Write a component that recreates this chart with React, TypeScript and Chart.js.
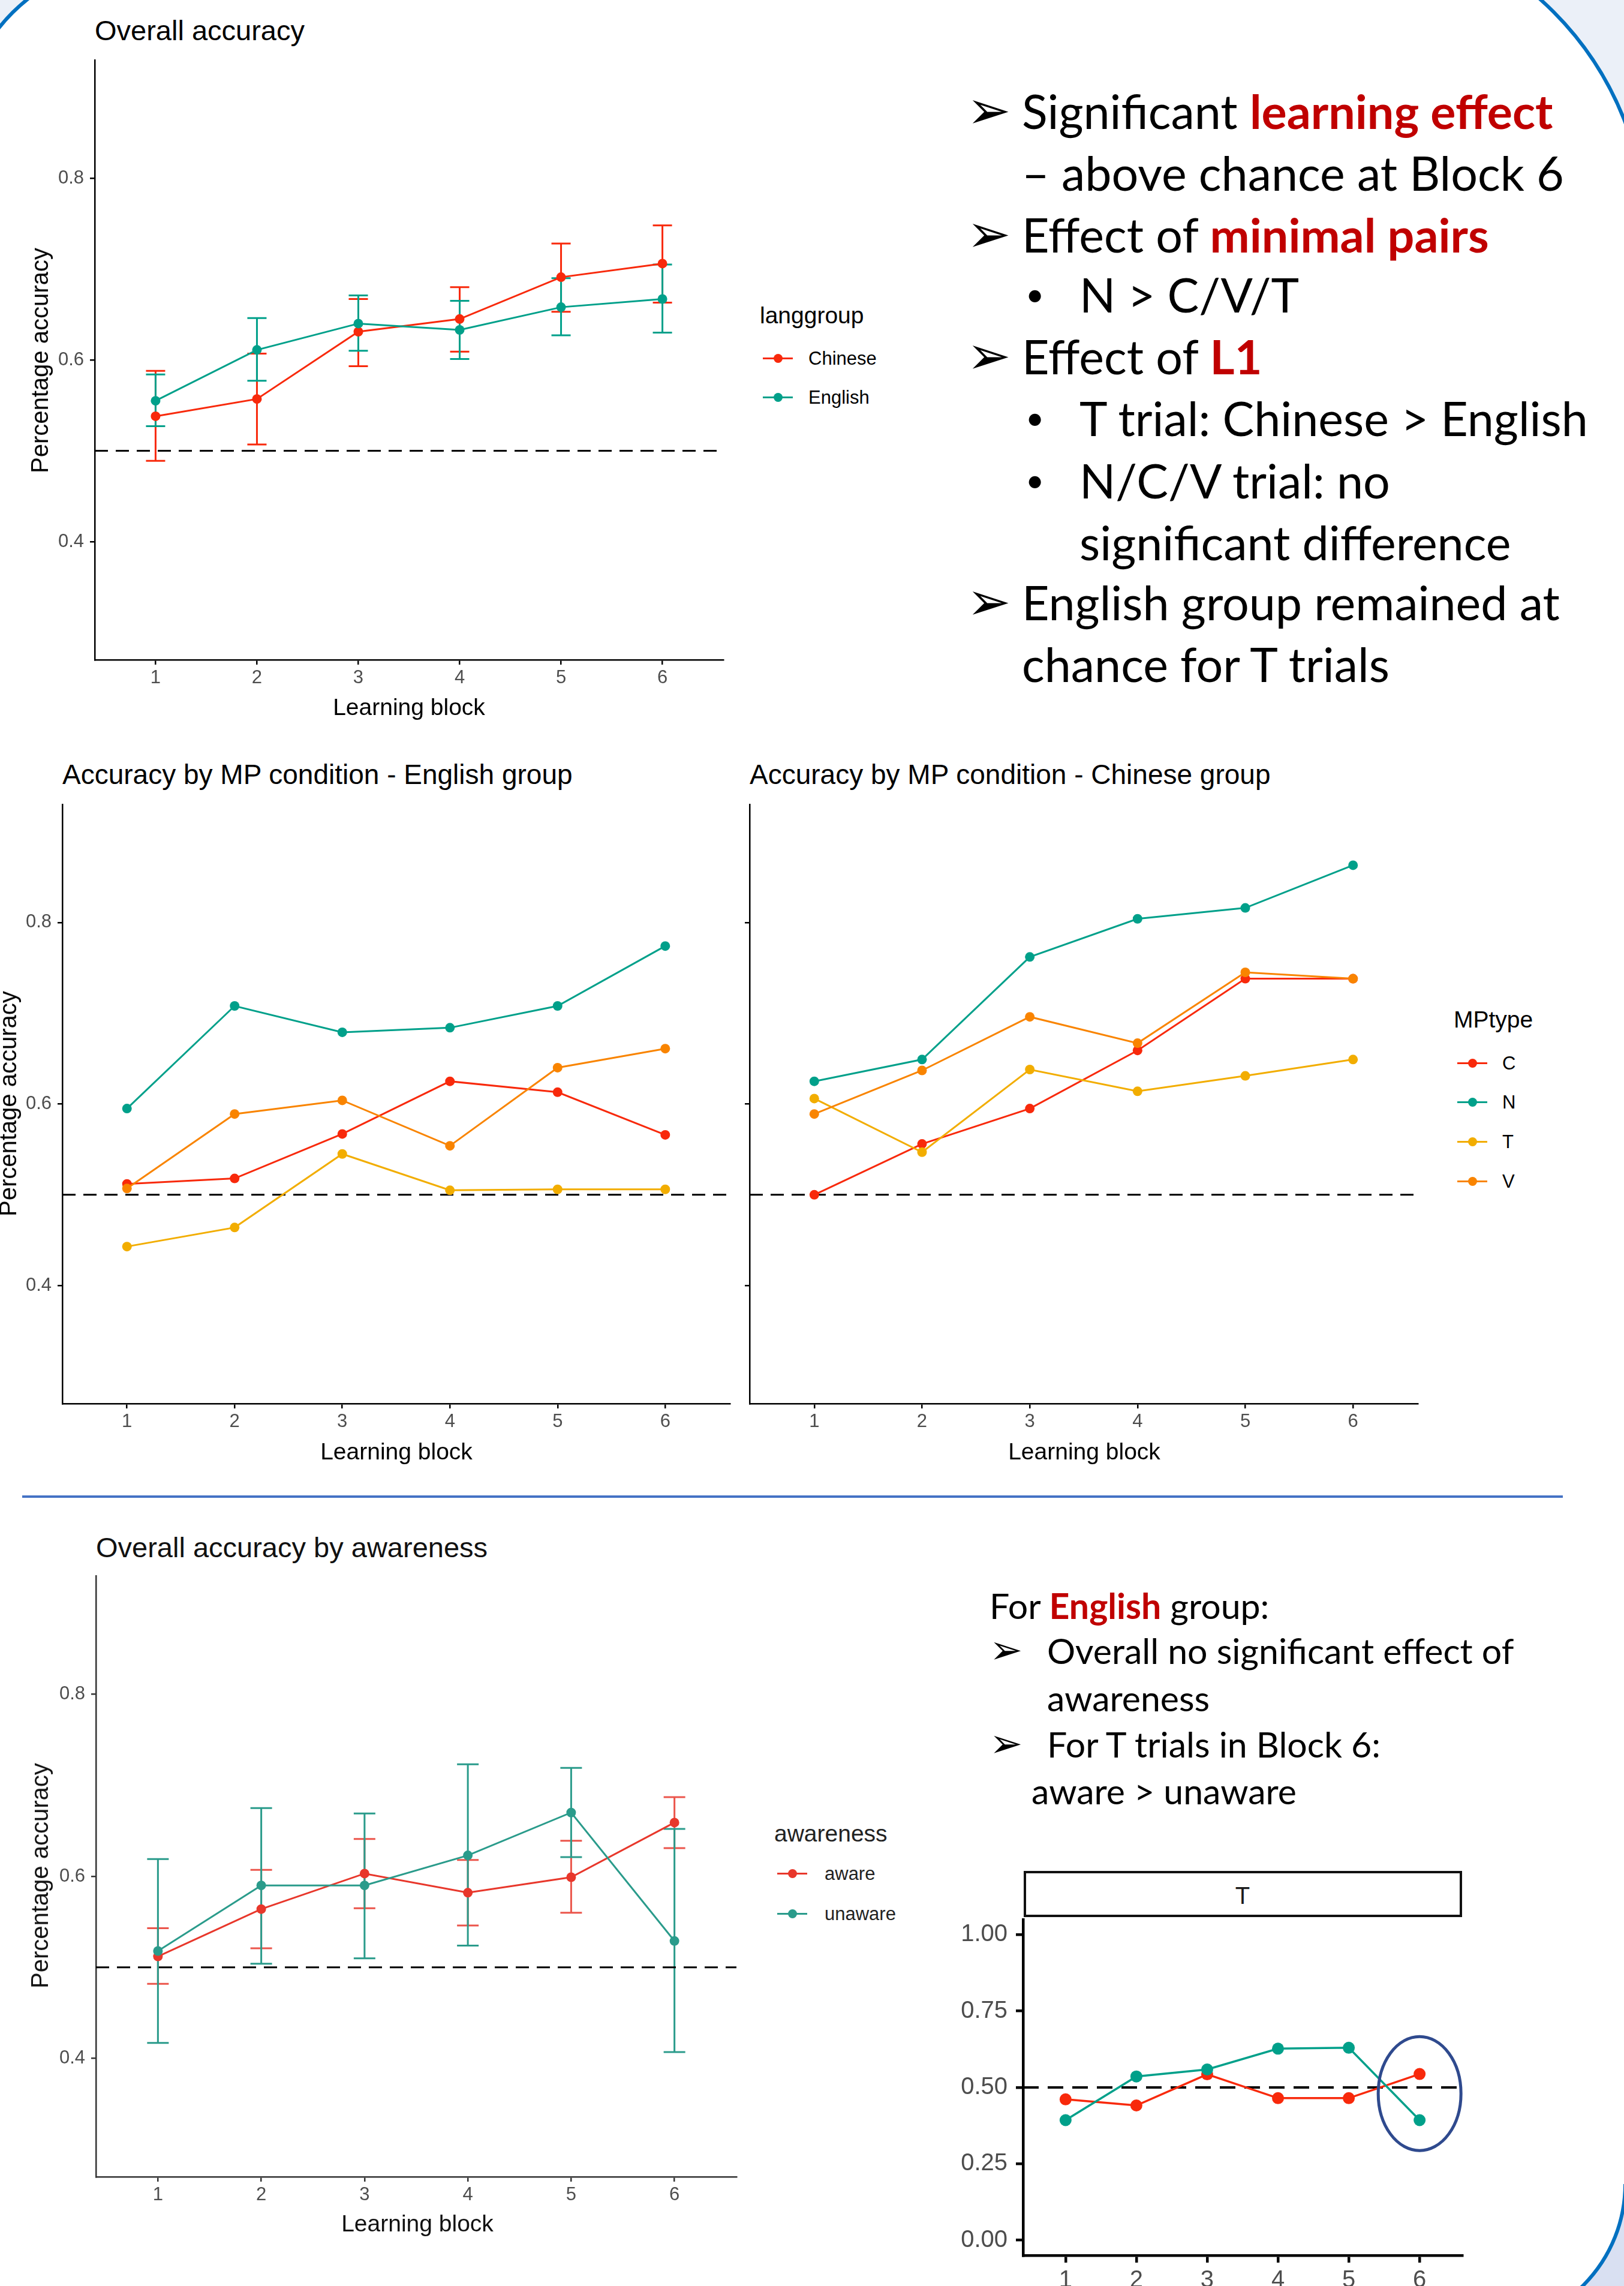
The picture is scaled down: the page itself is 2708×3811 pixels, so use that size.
import React, { useEffect, useRef } from 'react';
import { Chart, registerables } from 'chart.js';

Chart.register(...registerables);

// ---------------- DATA ----------------
const BLOCKS = [1, 2, 3, 4, 5, 6];
const X_MIN = 0.4;
const X_MAX = 6.6;
const ACC_MIN = 0.27;
const ACC_MAX = 0.93;
const ACC_TICKS = [0.4, 0.6, 0.8];
const T_MIN = -0.05;
const T_MAX = 1.05;
const T_TICKS = [0, 0.25, 0.5, 0.75, 1];
const CHANCE = 0.5;

// Overall accuracy (langgroup)
const LANG_LABELS = ['Chinese', 'English'];
const overallChinese = [0.538, 0.557, 0.631, 0.645, 0.691, 0.706];
const overallChineseLow = [0.489, 0.507, 0.593, 0.609, 0.653, 0.663];
const overallChineseHigh = [0.588, 0.607, 0.667, 0.680, 0.728, 0.748];
const overallEnglish = [0.555, 0.611, 0.640, 0.633, 0.658, 0.667];
const overallEnglishLow = [0.527, 0.577, 0.610, 0.601, 0.627, 0.630];
const overallEnglishHigh = [0.584, 0.646, 0.671, 0.665, 0.690, 0.705];

// Accuracy by MP condition
const MP_LABELS = ['C', 'N', 'T', 'V'];
const engC = [0.512, 0.518, 0.567, 0.625, 0.613, 0.566];
const engN = [0.595, 0.708, 0.679, 0.684, 0.708, 0.774];
const engT = [0.443, 0.464, 0.545, 0.505, 0.506, 0.506];
const engV = [0.507, 0.589, 0.604, 0.554, 0.640, 0.661];
const chiC = [0.500, 0.556, 0.595, 0.659, 0.738, 0.738];
const chiN = [0.625, 0.649, 0.762, 0.804, 0.816, 0.863];
const chiT = [0.606, 0.547, 0.638, 0.614, 0.631, 0.649];
const chiV = [0.589, 0.637, 0.696, 0.667, 0.745, 0.738];

// Overall accuracy by awareness
const AW_LABELS = ['aware', 'unaware'];
const aware = [0.512, 0.564, 0.603, 0.582, 0.599, 0.659];
const awareLow = [0.482, 0.521, 0.565, 0.546, 0.560, 0.631];
const awareHigh = [0.543, 0.607, 0.641, 0.618, 0.639, 0.687];
const unaware = [0.518, 0.590, 0.590, 0.623, 0.670, 0.529];
const unawareLow = [0.417, 0.504, 0.510, 0.524, 0.621, 0.407];
const unawareHigh = [0.619, 0.675, 0.669, 0.723, 0.719, 0.652];

// T trials, English group
const tAware = [0.461, 0.441, 0.543, 0.465, 0.465, 0.544];
const tUnaware = [0.393, 0.536, 0.559, 0.627, 0.630, 0.393];
const HIGHLIGHT_BLOCK = 6;
const HIGHLIGHT_Y = 0.48;

// ---------------- STYLE ----------------
const RED = '#F8290B';
const TEAL = '#00A08A';
const YELLOW = '#F2AD00';
const ORANGE = '#F98400';
const AW_RED = '#E8372B';
const AW_TEAL = '#2A9B8B';
const TICK_GRAY = '#4D4D4D';
const PLOT_FONT = '"Liberation Sans", Arial, sans-serif';
const TEXT_FONT = 'Lato, "Noto Sans", sans-serif';
const ARROW_FONT = '"DejaVu Sans", sans-serif';
const DARK_RED = '#C00000';

const PT = 40;
const PR = 12;

type Series = { label: string; color: string; values: number[]; low?: number[]; high?: number[]; errColor?: string };
type PlotStyle = {
  pointR: number; lineW: number; axisW: number; axisColor: string; tickLen: number; tickFont: number;
  yPad: number; xPad: number; dash: number[]; dashW: number; cap: number; errW: number;
};
type PlotProps = {
  box: [number, number, number, number];
  yAxisW: number; xAxisH: number;
  yMin: number; yMax: number; yTicks: number[]; yDigits: number; yLabels: boolean;
  series: Series[];
  st: PlotStyle;
  ellipse?: { x: number; y: number; rx: number; ry: number; color: string; width: number };
};

function Plot(p: PlotProps) {
  const ref = useRef<HTMLCanvasElement | null>(null);
  const [l, t, r, b] = p.box;
  const cw = r - l + p.yAxisW + PR;
  const ch = b - t + p.xAxisH + PT;
  useEffect(() => {
    if (!ref.current) return;
    const st = p.st;
    const datasets: any[] = p.series.map((s, i) => ({
      label: s.label,
      data: BLOCKS.map((bk, j) => ({ x: bk, y: s.values[j] })),
      borderColor: s.color,
      backgroundColor: s.color,
      pointBackgroundColor: s.color,
      pointBorderWidth: 0,
      pointRadius: st.pointR,
      borderWidth: st.lineW,
      tension: 0,
      order: 100 - i,
    }));
    datasets.push({
      label: 'chance',
      data: [{ x: X_MIN, y: CHANCE }, { x: X_MAX, y: CHANCE }],
      borderColor: '#000',
      borderWidth: st.dashW,
      borderDash: st.dash,
      pointRadius: 0,
      order: 1000,
    });
    const plugin = {
      id: 'extras',
      beforeDatasetsDraw(chart: any) {
        const ctx = chart.ctx;
        const xs = chart.scales.x;
        const ys = chart.scales.y;
        p.series.forEach((s) => {
          if (!s.low || !s.high) return;
          ctx.save();
          ctx.strokeStyle = s.errColor || s.color;
          ctx.lineWidth = st.errW;
          BLOCKS.forEach((bk, j) => {
            const px = xs.getPixelForValue(bk);
            const y1 = ys.getPixelForValue(s.low![j]);
            const y2 = ys.getPixelForValue(s.high![j]);
            ctx.beginPath();
            ctx.moveTo(px, y1); ctx.lineTo(px, y2);
            ctx.moveTo(px - st.cap, y1); ctx.lineTo(px + st.cap, y1);
            ctx.moveTo(px - st.cap, y2); ctx.lineTo(px + st.cap, y2);
            ctx.stroke();
          });
          ctx.restore();
        });
      },
      afterDatasetsDraw(chart: any) {
        if (!p.ellipse) return;
        const e = p.ellipse;
        const ctx = chart.ctx;
        const cx = chart.scales.x.getPixelForValue(e.x);
        const cy = chart.scales.y.getPixelForValue(e.y);
        ctx.save();
        ctx.strokeStyle = e.color;
        ctx.lineWidth = e.width;
        ctx.beginPath();
        ctx.ellipse(cx, cy, e.rx, e.ry, 0, 0, Math.PI * 2);
        ctx.stroke();
        ctx.restore();
      },
    };
    const gridCfg = {
      display: true, drawOnChartArea: false, drawTicks: true, tickLength: st.tickLen,
      color: st.axisColor, lineWidth: st.axisW,
    };
    const chart = new Chart(ref.current, {
      type: 'line',
      data: { datasets },
      options: {
        animation: false,
        responsive: false,
        maintainAspectRatio: false,
        devicePixelRatio: 1,
        events: [],
        layout: { padding: { top: PT, right: PR, left: 0, bottom: 0 } },
        plugins: { legend: { display: false }, tooltip: { enabled: false }, title: { display: false } },
        scales: {
          x: {
            type: 'linear', position: 'bottom', min: X_MIN, max: X_MAX, bounds: 'data',
            afterBuildTicks: (sc: any) => { sc.ticks = BLOCKS.map((v) => ({ value: v })); },
            afterFit: (sc: any) => { sc.height = p.xAxisH; },
            ticks: {
              autoSkip: false, maxRotation: 0, minRotation: 0, color: TICK_GRAY, padding: st.xPad,
              font: { family: PLOT_FONT, size: st.tickFont }, callback: (v: any) => String(v),
            },
            grid: gridCfg,
            border: { display: true, color: st.axisColor, width: st.axisW },
          },
          y: {
            type: 'linear', position: 'left', min: p.yMin, max: p.yMax, bounds: 'data',
            afterBuildTicks: (sc: any) => { sc.ticks = p.yTicks.map((v) => ({ value: v })); },
            afterFit: (sc: any) => { sc.width = p.yAxisW; },
            ticks: {
              autoSkip: false, color: TICK_GRAY, padding: st.yPad,
              font: { family: PLOT_FONT, size: st.tickFont },
              callback: (v: any) => (p.yLabels ? Number(v).toFixed(p.yDigits) : ''),
            },
            grid: gridCfg,
            border: { display: true, color: st.axisColor, width: st.axisW },
          },
        },
      } as any,
      plugins: [plugin as any],
    });
    return () => chart.destroy();
  }, []);
  return (
    <canvas
      ref={ref}
      width={cw}
      height={ch}
      style={{ position: 'absolute', left: l - p.yAxisW, top: t - PT, width: cw, height: ch }}
    />
  );
}

function Txt(props: any) {
  const { x, y, size, children, center = false, color = '#000', family = PLOT_FONT, weight = 400, rotate = false } = props;
  const tr = rotate ? 'translate(-50%,-50%) rotate(-90deg)' : center ? 'translate(-50%,-50%)' : 'translateY(-50%)';
  return (
    <div style={{ position: 'absolute', left: x, top: y, transform: tr, fontSize: size, lineHeight: 1, whiteSpace: 'nowrap', color, fontFamily: family, fontWeight: weight }}>
      {children}
    </div>
  );
}

function Legend(props: { title: string; tx: number; ty: number; labels: string[]; colors: string[]; ys: number[]; kx: number; lx: number; textColor?: string }) {
  const { title, tx, ty, labels, colors, ys, kx, lx, textColor = '#000' } = props;
  return (
    <>
      <Txt x={tx} y={ty} size={39} color={textColor}>{title}</Txt>
      {labels.map((lab, i) => (
        <React.Fragment key={lab}>
          <div style={{ position: 'absolute', left: kx - 25, top: ys[i] - 1.5, width: 50, height: 3, background: colors[i] }} />
          <div style={{ position: 'absolute', left: kx - 7.5, top: ys[i] - 7.5, width: 15, height: 15, borderRadius: '50%', background: colors[i] }} />
          <Txt x={lx} y={ys[i]} size={31} color={textColor}>{lab}</Txt>
        </React.Fragment>
      ))}
    </>
  );
}

function Corner(props: { qx: number; qy: number; qw: number; qh: number; cx: number; cy: number; r: number; bg: string }) {
  const { qx, qy, qw, qh, cx, cy, r, bg } = props;
  return (
    <div style={{ position: 'absolute', left: qx, top: qy, width: qw, height: qh, overflow: 'hidden', background: bg }}>
      <div style={{ position: 'absolute', left: cx - qx - r, top: cy - qy - r, width: 2 * r, height: 2 * r, borderRadius: '50%', background: '#fff', border: '6px solid #0070C0', boxSizing: 'border-box' }} />
    </div>
  );
}

const accStyle: PlotStyle = {
  pointR: 8, lineW: 3, axisW: 2.5, axisColor: '#000', tickLen: 8, tickFont: 31,
  yPad: 10, xPad: 4, dash: [22, 13], dashW: 3, cap: 16, errW: 3,
};
const awStyle: PlotStyle = { ...accStyle, axisColor: '#333', cap: 18 };
const tStyle: PlotStyle = {
  pointR: 10, lineW: 3.5, axisW: 4.5, axisColor: '#000', tickLen: 12, tickFont: 40,
  yPad: 14, xPad: 6, dash: [26, 15], dashW: 4, cap: 0, errW: 0,
};

const TOP_SIZE = 79;
const BOT_SIZE = 59;
const TOP_ARROW = 88;
const BOT_ARROW = 66;
const TOP_BULLET = 54;
const red = (s: string) => <span style={{ color: DARK_RED, fontWeight: 700 }}>{s}</span>;

export default function App() {
  useEffect(() => { document.body.style.margin = '0'; }, []);
  return (
    <div style={{ position: 'absolute', left: 0, top: 0, width: 2708, height: 3811, overflow: 'hidden', background: '#fff' }}>
      <Corner qx={0} qy={0} qw={231} qh={231} cx={231} cy={231} r={300} bg="#EBF0F8" />
      <Corner qx={2217} qy={0} qw={491} qh={393} cx={2217} cy={393} r={531} bg="#EBF0F8" />
      <Corner qx={2471} qy={3641} qw={237} qh={170} cx={2471} cy={3641} r={242} bg="#D9E0F2" />

      {/* Chart 1 */}
      <Txt x={158} y={50} size={47}>Overall accuracy</Txt>
      <Plot
        box={[158, 100, 1206, 1100]} yAxisW={120} xAxisH={60}
        yMin={ACC_MIN} yMax={ACC_MAX} yTicks={ACC_TICKS} yDigits={1} yLabels={true}
        series={[
          { label: LANG_LABELS[0], color: RED, values: overallChinese, low: overallChineseLow, high: overallChineseHigh },
          { label: LANG_LABELS[1], color: TEAL, values: overallEnglish, low: overallEnglishLow, high: overallEnglishHigh },
        ]}
        st={accStyle}
      />
      <Txt x={66} y={601} size={40} rotate>Percentage accuracy</Txt>
      <Txt x={682} y={1178} size={39} center>Learning block</Txt>
      <Legend title="langgroup" tx={1267} ty={525} labels={LANG_LABELS} colors={[RED, TEAL]} ys={[597, 662]} kx={1297} lx={1348} />

      {/* Top-right text */}
      <Txt x={1612} y={184} size={TOP_ARROW} family={ARROW_FONT}>➢</Txt>
      <Txt x={1704} y={184} size={TOP_SIZE} family={TEXT_FONT}>Significant {red('learning effect')}</Txt>
      <Txt x={1704} y={287} size={TOP_SIZE} family={TEXT_FONT}>– above chance at Block 6</Txt>
      <Txt x={1612} y={390} size={TOP_ARROW} family={ARROW_FONT}>➢</Txt>
      <Txt x={1704} y={390} size={TOP_SIZE} family={TEXT_FONT}>Effect of {red('minimal pairs')}</Txt>
      <Txt x={1710} y={490} size={TOP_BULLET} family={TEXT_FONT}>•</Txt>
      <Txt x={1800} y={490} size={TOP_SIZE} family={TEXT_FONT}>N &gt; C/V/T</Txt>
      <Txt x={1612} y={593} size={TOP_ARROW} family={ARROW_FONT}>➢</Txt>
      <Txt x={1704} y={593} size={TOP_SIZE} family={TEXT_FONT}>Effect of {red('L1')}</Txt>
      <Txt x={1710} y={696} size={TOP_BULLET} family={TEXT_FONT}>•</Txt>
      <Txt x={1800} y={696} size={TOP_SIZE} family={TEXT_FONT}>T trial: Chinese &gt; English</Txt>
      <Txt x={1710} y={800} size={TOP_BULLET} family={TEXT_FONT}>•</Txt>
      <Txt x={1800} y={800} size={TOP_SIZE} family={TEXT_FONT}>N/C/V trial: no</Txt>
      <Txt x={1800} y={903} size={TOP_SIZE} family={TEXT_FONT}>significant difference</Txt>
      <Txt x={1612} y={1003} size={TOP_ARROW} family={ARROW_FONT}>➢</Txt>
      <Txt x={1704} y={1003} size={TOP_SIZE} family={TEXT_FONT}>English group remained at</Txt>
      <Txt x={1704} y={1106} size={TOP_SIZE} family={TEXT_FONT}>chance for T trials</Txt>

      {/* Chart 2 */}
      <Txt x={104} y={1291} size={46}>Accuracy by MP condition - English group</Txt>
      <Plot
        box={[104, 1341, 1217, 2340]} yAxisW={100} xAxisH={60}
        yMin={ACC_MIN} yMax={ACC_MAX} yTicks={ACC_TICKS} yDigits={1} yLabels={true}
        series={[
          { label: MP_LABELS[0], color: RED, values: engC },
          { label: MP_LABELS[1], color: TEAL, values: engN },
          { label: MP_LABELS[2], color: YELLOW, values: engT },
          { label: MP_LABELS[3], color: ORANGE, values: engV },
        ]}
        st={accStyle}
      />
      <Txt x={13} y={1840} size={40} rotate>Percentage accuracy</Txt>
      <Txt x={661} y={2419} size={39} center>Learning block</Txt>

      {/* Chart 3 */}
      <Txt x={1250} y={1291} size={46}>Accuracy by MP condition - Chinese group</Txt>
      <Plot
        box={[1250, 1341, 2364, 2340]} yAxisW={30} xAxisH={60}
        yMin={ACC_MIN} yMax={ACC_MAX} yTicks={ACC_TICKS} yDigits={1} yLabels={false}
        series={[
          { label: MP_LABELS[0], color: RED, values: chiC },
          { label: MP_LABELS[1], color: TEAL, values: chiN },
          { label: MP_LABELS[2], color: YELLOW, values: chiT },
          { label: MP_LABELS[3], color: ORANGE, values: chiV },
        ]}
        st={accStyle}
      />
      <Txt x={1808} y={2419} size={39} center>Learning block</Txt>
      <Legend title="MPtype" tx={2424} ty={1699} labels={MP_LABELS} colors={[RED, TEAL, YELLOW, ORANGE]} ys={[1772, 1837, 1903, 1969]} kx={2455} lx={2505} />

      {/* separator */}
      <div style={{ position: 'absolute', left: 37, top: 2493, width: 2569, height: 4, background: '#4472C4' }} />

      {/* Chart 4 */}
      <Txt x={160} y={2579} size={47} color="#111">Overall accuracy by awareness</Txt>
      <Plot
        box={[160, 2627, 1228, 3629]} yAxisW={120} xAxisH={60}
        yMin={ACC_MIN} yMax={ACC_MAX} yTicks={ACC_TICKS} yDigits={1} yLabels={true}
        series={[
          { label: AW_LABELS[0], color: AW_RED, values: aware, low: awareLow, high: awareHigh, errColor: 'rgba(232,55,43,0.85)' },
          { label: AW_LABELS[1], color: AW_TEAL, values: unaware, low: unawareLow, high: unawareHigh },
        ]}
        st={awStyle}
      />
      <Txt x={66} y={3127} size={40} rotate color="#111">Percentage accuracy</Txt>
      <Txt x={696} y={3706} size={39} center color="#111">Learning block</Txt>
      <Legend title="awareness" tx={1291} ty={3056} labels={AW_LABELS} colors={[AW_RED, AW_TEAL]} ys={[3123, 3190]} kx={1321} lx={1375} textColor="#222" />

      {/* Bottom-right text */}
      <Txt x={1650} y={2676} size={BOT_SIZE} family={TEXT_FONT}>For {red('English')} group:</Txt>
      <Txt x={1650} y={2751} size={BOT_ARROW} family={ARROW_FONT}>➢</Txt>
      <Txt x={1746} y={2751} size={BOT_SIZE} family={TEXT_FONT}>Overall no significant effect of</Txt>
      <Txt x={1746} y={2830} size={BOT_SIZE} family={TEXT_FONT}>awareness</Txt>
      <Txt x={1650} y={2907} size={BOT_ARROW} family={ARROW_FONT}>➢</Txt>
      <Txt x={1746} y={2907} size={BOT_SIZE} family={TEXT_FONT}>For T trials in Block 6:</Txt>
      <Txt x={1720} y={2985} size={BOT_SIZE} family={TEXT_FONT}>aware &gt; unaware</Txt>

      {/* Chart 5 */}
      <Plot
        box={[1706, 3200, 2438, 3760]} yAxisW={130} xAxisH={60}
        yMin={T_MIN} yMax={T_MAX} yTicks={T_TICKS} yDigits={2} yLabels={true}
        series={[
          { label: AW_LABELS[0], color: RED, values: tAware },
          { label: AW_LABELS[1], color: TEAL, values: tUnaware },
        ]}
        st={tStyle}
        ellipse={{ x: HIGHLIGHT_BLOCK, y: HIGHLIGHT_Y, rx: 69, ry: 95, color: '#2F4A8E', width: 5 }}
      />
      <div style={{ position: 'absolute', left: 1707, top: 3119, width: 731, height: 77, border: '4px solid #111', boxSizing: 'border-box', background: '#fff' }} />
      <Txt x={2072} y={3160} size={40} center color="#1a1a1a">T</Txt>
    </div>
  );
}
